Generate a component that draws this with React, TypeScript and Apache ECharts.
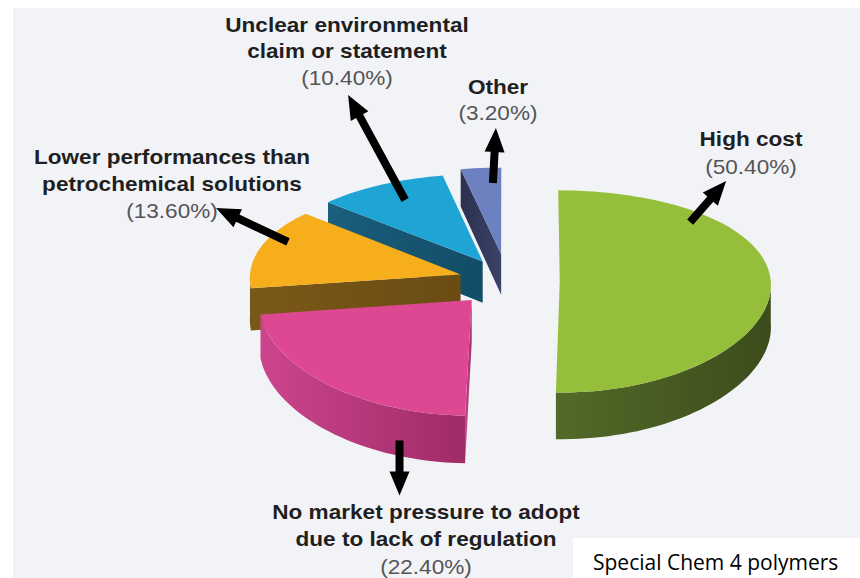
import React, { useEffect, useRef } from "react";
import * as echarts from "echarts";

// ---- data ----
const CATEGORIES = [
  "High cost",
  "No market pressure to adopt due to lack of regulation",
  "Lower performances than petrochemical solutions",
  "Unclear environmental claim or statement",
  "Other",
];
const LABEL_LINES = [
  ["High cost"],
  ["No market pressure to adopt", "due to lack of regulation"],
  ["Lower performances than", "petrochemical solutions"],
  ["Unclear environmental", "claim or statement"],
  ["Other"],
];
const VALUES = [50.4, 22.4, 13.6, 10.4, 3.2];
const SOURCE_TEXT = "Special Chem 4 polymers";

// ---- styles / layout ----
const TOP_COLORS = ["#95bf3a", "#de4892", "#f7ae1d", "#1ea5d6", "#6d80bf"];
const WALL_COLORS = [
  ["#526a29", "#3c4c1b"],
  ["#cc458d", "#a02b67"],
  ["#7a5817", "#6a4c13"],
  ["#1a5f7c", "#124c66"],
  ["#2b314e", "#3a4266"],
];
const EXPLODE = [0.25, 0.25, 0.23, 0.23, 0.28];
// arrow anchor in pie space: [angle deg, radius fraction, depth fraction]
const ARROW_ANCHOR = [
  [45.2, 0.894, 0],
  [199, 1, 0.67],
  [292.3, 0.897, 0],
  [330.9, 0.781, 0],
  [357.1, 0.809, 0],
];
const ARROW_VECTOR = [
  [36, -41],
  [0, 55],
  [-72, -34],
  [-57, -105],
  [3, -55],
];
const LABEL_POS = [
  [751, 139],
  [426, 512],
  [172, 157],
  [347, 25],
  [498, 87],
];
const LINE_GAP = [28, 27.5, 27, 26.5, 26];

const CX = 507;
const CY = 281;
const SX = 211;
const SY = 100;
const PY = 0.1;
const PX = 0.03;
const H = 42;

const TOTAL = VALUES.reduce((a, b) => a + b, 0);
const STARTS: number[] = [];
{
  let acc = 0;
  for (const v of VALUES) {
    STARTS.push((acc / TOTAL) * 360);
    acc += v;
  }
}

const rad = (d: number) => (d * Math.PI) / 180;

function project(X: number, Z: number, depth: number): [number, number] {
  const sy = 1 / (1 + PY * Z);
  const sx = 1 / (1 + PX * Z);
  return [CX + X * SX * sx, CY + (-Z * SY + depth) * sy];
}

function renderItem(params: any, api: any) {
  const i = params.dataIndex;
  const value = api.value(0);
  const a0 = STARTS[i];
  const a1 = a0 + (value / TOTAL) * 360;
  const mid = (a0 + a1) / 2;
  const e = EXPLODE[i];
  const offX = e * Math.sin(rad(mid));
  const offZ = e * Math.cos(rad(mid));
  const rim = (t: number, depth: number, r = 1) =>
    project(r * Math.sin(rad(t)) + offX, r * Math.cos(rad(t)) + offZ, depth);
  const apex = (depth: number) => project(offX, offZ, depth);
  const arc = (t0: number, t1: number, depth: number) => {
    const n = Math.max(4, Math.ceil(Math.abs(t1 - t0) / 2));
    const pts: [number, number][] = [];
    for (let k = 0; k <= n; k++) pts.push(rim(t0 + ((t1 - t0) * k) / n, depth));
    return pts;
  };

  // depth rank: far slices first
  const depths = VALUES.map((v, j) => {
    const s = STARTS[j];
    const m = s + (v / TOTAL) * 180;
    return Math.cos(rad(m));
  });
  const order = depths.map((d, j) => j).sort((p, q) => depths[q] - depths[p]);
  const rank = order.indexOf(i);
  const base = rank * 10;

  const wallGrad = new echarts.graphic.LinearGradient(0, 0, 1, 0, [
    { offset: 0, color: WALL_COLORS[i][0] },
    { offset: 1, color: WALL_COLORS[i][1] },
  ]);

  const children: any[] = [];
  // radial walls
  if (Math.sin(rad(a0)) < -1e-6) {
    children.push({
      type: "polygon",
      z2: base,
      shape: { points: [apex(0), rim(a0, 0), rim(a0, H), apex(H)] },
      style: { fill: wallGrad },
    });
  }
  if (Math.sin(rad(a1)) > 1e-6) {
    children.push({
      type: "polygon",
      z2: base,
      shape: { points: [apex(0), rim(a1, 0), rim(a1, H), apex(H)] },
      style: { fill: wallGrad },
    });
  }
  // outer wall
  const w0 = Math.max(a0, 90);
  const w1 = Math.min(a1, 270);
  if (w1 > w0) {
    const top = arc(w0, w1, 0);
    const bot = arc(w0, w1, H).reverse();
    children.push({
      type: "polygon",
      z2: base + 1,
      shape: { points: top.concat(bot) },
      style: { fill: wallGrad },
    });
  }
  // top face
  children.push({
    type: "polygon",
    z2: base + 2,
    shape: { points: [apex(0)].concat(arc(a0, a1, 0)) },
    style: { fill: TOP_COLORS[i] },
  });

  // arrow
  const [aa, ar, ad] = ARROW_ANCHOR[i];
  const tail = rim(aa, ad * H, ar);
  const tip: [number, number] = [tail[0] + ARROW_VECTOR[i][0], tail[1] + ARROW_VECTOR[i][1]];
  const len = Math.hypot(tip[0] - tail[0], tip[1] - tail[1]);
  const ux = (tip[0] - tail[0]) / len;
  const uy = (tip[1] - tail[1]) / len;
  const nx = -uy;
  const ny = ux;
  const w = 4;
  const hw = 10;
  const hl = 24;
  const bx = tip[0] - ux * hl;
  const by = tip[1] - uy * hl;
  children.push({
    type: "polygon",
    z2: 200,
    shape: {
      points: [
        [tail[0] + nx * w, tail[1] + ny * w],
        [bx + nx * w, by + ny * w],
        [bx + nx * hw, by + ny * hw],
        tip,
        [bx - nx * hw, by - ny * hw],
        [bx - nx * w, by - ny * w],
        [tail[0] - nx * w, tail[1] - ny * w],
      ],
    },
    style: { fill: "#000000" },
  });

  // labels
  const lines = LABEL_LINES[i];
  const [lx, ly] = LABEL_POS[i];
  lines.forEach((t, k) => {
    children.push({
      type: "text",
      z2: 210,
      x: lx,
      y: ly + k * LINE_GAP[i],
      scaleX: 1.13,
      style: {
        text: t,
        fill: "#1f1f1f",
        fontFamily: "Liberation Sans",
        fontSize: 20,
        fontWeight: "bold",
        textAlign: "center",
        textVerticalAlign: "middle",
        align: "center",
        verticalAlign: "middle",
      },
    });
  });
  children.push({
    type: "text",
    z2: 210,
    x: lx,
    y: ly + lines.length * LINE_GAP[i],
    scaleX: 1.13,
    style: {
      text: `(${value.toFixed(2)}%)`,
      fill: "#555555",
      fontFamily: "Liberation Sans",
      fontSize: 20,
      fontWeight: "normal",
      textAlign: "center",
      textVerticalAlign: "middle",
      align: "center",
      verticalAlign: "middle",
    },
  });

  return { type: "group", children };
}

export default function App() {
  const ref = useRef<HTMLDivElement>(null);
  useEffect(() => {
    document.body.style.margin = "0";
    const chart = echarts.init(ref.current!, null, { renderer: "svg" });
    chart.setOption({
      animation: false,
      backgroundColor: "#ffffff",
      graphic: [
        {
          type: "rect",
          z: -10,
          shape: { x: 13, y: 8, width: 847, height: 570 },
          style: { fill: "#f2f3f7" },
          silent: true,
        },
        {
          type: "rect",
          z: 100,
          shape: { x: 573, y: 538, width: 287, height: 40 },
          style: { fill: "#ffffff" },
          silent: true,
        },
        {
          type: "text",
          z: 101,
          x: 593,
          y: 562,
          style: {
            text: SOURCE_TEXT,
            fill: "#000000",
            fontFamily: "Open Sans",
            fontSize: 21,
            textAlign: "left",
            textVerticalAlign: "middle",
            align: "left",
            verticalAlign: "middle",
          },
          silent: true,
        },
      ],
      series: [
        {
          type: "custom",
          coordinateSystem: "none",
          renderItem,
          silent: true,
          data: VALUES.map((v, i) => ({ name: CATEGORIES[i], value: v })),
        },
      ],
    });
    return () => chart.dispose();
  }, []);
  return (
    <div
      ref={ref}
      style={{ width: 860, height: 578, position: "fixed", left: 0, top: 0 }}
    />
  );
}
